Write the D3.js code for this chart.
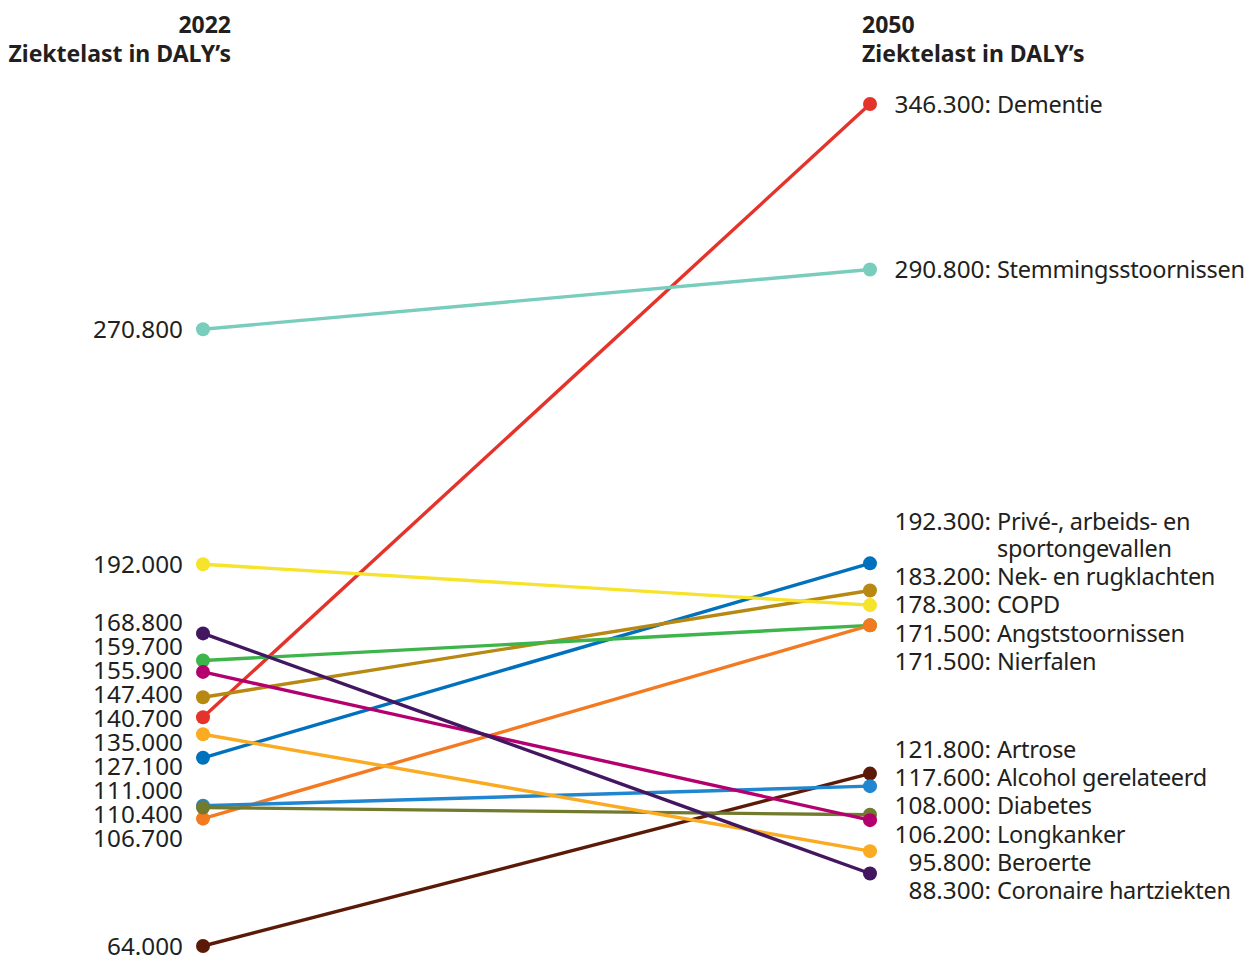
<!DOCTYPE html>
<html>
<head>
<meta charset="utf-8">
<script src="https://cdn.jsdelivr.net/npm/d3@7"></script>
<style>
  html, body { margin: 0; padding: 0; background: #fff; }
  svg { display: block; font-family: "Noto Sans", "Open Sans", sans-serif; }
</style>
</head>
<body>
<svg id="chart" width="1255" height="958"></svg>
<script>
// ---- data ----
const categories = [
  "Dementie",
  "Stemmingsstoornissen",
  "Privé-, arbeids- en|sportongevallen",
  "Nek- en rugklachten",
  "COPD",
  "Angststoornissen",
  "Nierfalen",
  "Artrose",
  "Alcohol gerelateerd",
  "Diabetes",
  "Longkanker",
  "Beroerte",
  "Coronaire hartziekten"
];
const values2022 = [140.7, 270.8, 127.1, 147.4, 192.0, 159.7, 106.7, 64.0, 111.0, 110.4, 155.9, 135.0, 168.8];
const values2050 = [346.3, 290.8, 192.3, 183.2, 178.3, 171.5, 171.5, 121.8, 117.6, 108.0, 106.2, 95.8, 88.3];
const colors = ["#e4332a", "#79cdbd", "#0071bc", "#b88912", "#f6e32c", "#3db54a", "#f47a22",
                "#5b1a08", "#1f86cf", "#727a2d", "#b4006e", "#fbab22", "#42175f"];
const yearLabels = ["2022", "2050"];
const axisTitle = "Ziektelast in DALY’s";

// ---- layout ----
const xLeft = 203, xRight = 870;
const y = d3.scaleLinear().domain([64, 346.3]).range([946, 104]);
const fmtVal = v => d3.format(",")(Math.round(v * 1000)).replace(/,/g, ".");

const data = categories.map((c, i) => ({
  name: c, lines: c.split("|"), v0: values2022[i], v1: values2050[i], color: colors[i]
}));

const svg = d3.select("#chart");
const textColor = "#231f20";
const fontSize = 24.3;
const nameSize = 23.5;

// titles
const tL = svg.append("text").attr("x", 231).attr("y", 33).attr("text-anchor", "end")
  .attr("font-weight", "bold").attr("font-size", 23).attr("fill", textColor);
tL.append("tspan").attr("x", 231).attr("dy", 0).text(yearLabels[0]);
tL.append("tspan").attr("x", 231).attr("dy", 29).text(axisTitle);
const tR = svg.append("text").attr("x", 862).attr("y", 33).attr("text-anchor", "start")
  .attr("font-weight", "bold").attr("font-size", 23).attr("fill", textColor);
tR.append("tspan").attr("x", 862).attr("dy", 0).text(yearLabels[1]);
tR.append("tspan").attr("x", 862).attr("dy", 29).text(axisTitle);

// label dodging (cluster-merge)
function dodge(items, gap, lineH) {
  const sorted = items.slice().sort((a, b) => a.target - b.target);
  let clusters = sorted.map(it => ({ items: [it] }));
  const layout = cl => {
    const hs = cl.items.map(it => gap + (it.lines - 1) * lineH);
    const total = d3.sum(hs);
    let acc = 0;
    const rel = hs.map(h => { const c = acc + h / 2; acc += h; return c; });
    const mean = d3.mean(cl.items.map((it, k) => it.target - rel[k]));
    cl.top = mean; cl.bottom = mean + total;
    cl.items.forEach((it, k) => { it.center = mean + rel[k]; });
  };
  clusters.forEach(layout);
  let merged = true;
  while (merged) {
    merged = false;
    for (let i = 0; i < clusters.length - 1; i++) {
      if (clusters[i].bottom > clusters[i + 1].top) {
        clusters[i] = { items: clusters[i].items.concat(clusters[i + 1].items) };
        clusters.splice(i + 1, 1);
        layout(clusters[i]);
        merged = true;
        break;
      }
    }
  }
  sorted.forEach(it => { it.firstLine = it.center - (it.lines - 1) * lineH / 2; });
}

const leftItems = data.map(d => ({ d, target: y(d.v0), lines: 1 }));
dodge(leftItems, 24, 24);
const rightItems = data.map(d => ({ d, target: y(d.v1), lines: d.lines.length }));
dodge(rightItems, 28.3, 27);

// lines
svg.append("g").selectAll("line").data(data).join("line")
  .attr("x1", xLeft).attr("x2", xRight)
  .attr("y1", d => y(d.v0)).attr("y2", d => y(d.v1))
  .attr("stroke", d => d.color).attr("stroke-width", 3.4);

// dots
const dots = svg.append("g");
dots.selectAll("circle.l").data(data).join("circle").attr("class", "l")
  .attr("cx", xLeft).attr("cy", d => y(d.v0)).attr("r", 7).attr("fill", d => d.color);
dots.selectAll("circle.r").data(data).join("circle").attr("class", "r")
  .attr("cx", xRight).attr("cy", d => y(d.v1)).attr("r", 7).attr("fill", d => d.color);

// left labels
svg.append("g").selectAll("text").data(leftItems).join("text")
  .attr("x", 183).attr("y", d => d.firstLine).attr("dy", "0.357em")
  .attr("text-anchor", "end").attr("font-size", fontSize).attr("fill", textColor)
  .text(d => fmtVal(d.d.v0));

// right labels
const rg = svg.append("g");
rg.selectAll("text.v").data(rightItems).join("text").attr("class", "v")
  .attr("x", 991).attr("y", d => d.firstLine).attr("dy", "0.357em")
  .attr("text-anchor", "end").attr("font-size", fontSize).attr("fill", textColor)
  .text(d => fmtVal(d.d.v1) + ":");
rg.selectAll("text.n").data(rightItems).join("text").attr("class", "n")
  .attr("x", 997).attr("y", d => d.firstLine)
  .attr("text-anchor", "start").attr("font-size", nameSize).attr("letter-spacing", -0.3)
  .attr("fill", textColor)
  .each(function (d) {
    const t = d3.select(this);
    d.d.lines.forEach((ln, k) => {
      t.append("tspan").attr("x", 997).attr("dy", k === 0 ? "0.37em" : 27).text(ln);
    });
  });
</script>
</body>
</html>
